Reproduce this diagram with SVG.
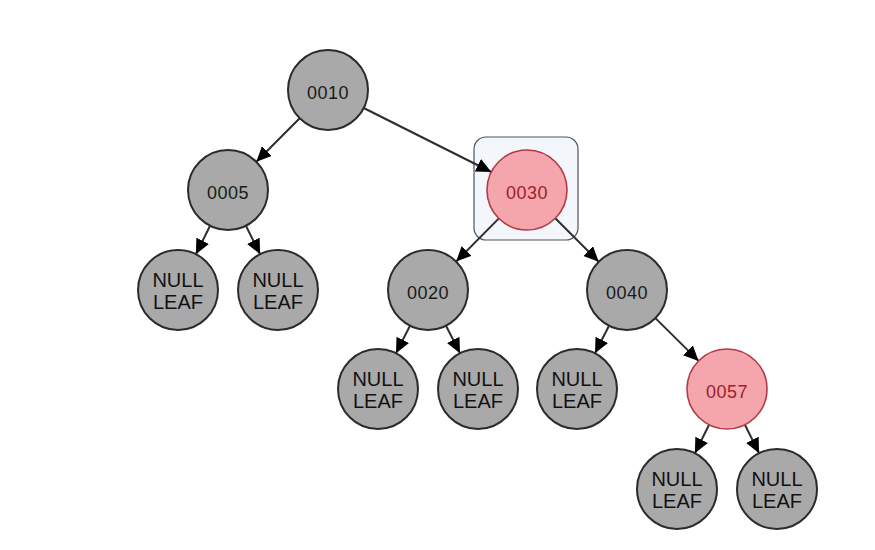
<svg xmlns="http://www.w3.org/2000/svg" width="875" height="550" viewBox="0 0 875 550">
<style>
.n circle{fill:#a9a9a9;stroke:#2b2b2b;stroke-width:2}
.r circle{fill:#f5a6ac;stroke:#b13a46;stroke-width:1.6}
.t{font-family:"Liberation Sans",Arial,sans-serif;font-size:18px;fill:#1a1a1a;text-anchor:middle;letter-spacing:0.5px}
.r .t{fill:#9c1f2a}
.l{font-family:"Liberation Sans",Arial,sans-serif;font-size:20px;fill:#111;text-anchor:middle}
.e line{stroke:#2e2e2e;stroke-width:2;marker-end:url(#a)}
</style>
<defs>
<marker id="a" markerUnits="userSpaceOnUse" markerWidth="16" markerHeight="14" refX="15" refY="7" orient="auto">
<path d="M0,0 L15,7 L0,14 z" fill="#000"/>
</marker>
</defs>
<rect width="875" height="550" fill="#fff"/>
<rect x="474" y="137" width="104" height="103" rx="12" fill="#f3f6fb" stroke="#4d5660" stroke-width="1.2"/>
<g class="e">
<line x1="299.7" y1="118.3" x2="256.3" y2="161.7"/>
<line x1="363.7" y1="108" x2="491.3" y2="172"/>
<line x1="210.1" y1="225.8" x2="195.9" y2="254.2"/>
<line x1="245.9" y1="225.8" x2="260.1" y2="254.2"/>
<line x1="498.9" y1="218.4" x2="456.1" y2="261.6"/>
<line x1="555.3" y1="218.3" x2="598.7" y2="261.7"/>
<line x1="410" y1="325.7" x2="396" y2="353.3"/>
<line x1="446" y1="325.7" x2="460" y2="353.3"/>
<line x1="609" y1="325.7" x2="595" y2="353.3"/>
<line x1="655.4" y1="318.1" x2="698.6" y2="360.9"/>
<line x1="709.1" y1="424.8" x2="694.9" y2="453.2"/>
<line x1="744.9" y1="424.8" x2="759.1" y2="453.2"/>
</g>
<g id="n0010" class="n"><circle cx="328" cy="90" r="40"/><text class="t" x="328" y="98.5">0010</text></g>
<g id="n0005" class="n"><circle cx="228" cy="190" r="40"/><text class="t" x="228" y="198.5">0005</text></g>
<g id="n0030" class="r"><circle cx="527" cy="190" r="40"/><text class="t" x="527" y="198.5">0030</text></g>
<g id="n0020" class="n"><circle cx="428" cy="290" r="40"/><text class="t" x="428" y="298.5">0020</text></g>
<g id="n0040" class="n"><circle cx="627" cy="290" r="40"/><text class="t" x="627" y="298.5">0040</text></g>
<g id="n0057" class="r"><circle cx="727" cy="389" r="40"/><text class="t" x="727" y="397.5">0057</text></g>
<g id="leaf1" class="n"><circle cx="178" cy="290" r="40"/><text class="l" x="178" y="286.5">NULL</text><text class="l" x="178" y="308.5">LEAF</text></g>
<g id="leaf2" class="n"><circle cx="278" cy="290" r="40"/><text class="l" x="278" y="286.5">NULL</text><text class="l" x="278" y="308.5">LEAF</text></g>
<g id="leaf3" class="n"><circle cx="378" cy="389" r="40"/><text class="l" x="378" y="385.5">NULL</text><text class="l" x="378" y="407.5">LEAF</text></g>
<g id="leaf4" class="n"><circle cx="478" cy="389" r="40"/><text class="l" x="478" y="385.5">NULL</text><text class="l" x="478" y="407.5">LEAF</text></g>
<g id="leaf5" class="n"><circle cx="577" cy="389" r="40"/><text class="l" x="577" y="385.5">NULL</text><text class="l" x="577" y="407.5">LEAF</text></g>
<g id="leaf6" class="n"><circle cx="677" cy="489" r="40"/><text class="l" x="677" y="485.5">NULL</text><text class="l" x="677" y="507.5">LEAF</text></g>
<g id="leaf7" class="n"><circle cx="777" cy="489" r="40"/><text class="l" x="777" y="485.5">NULL</text><text class="l" x="777" y="507.5">LEAF</text></g>
</svg>
